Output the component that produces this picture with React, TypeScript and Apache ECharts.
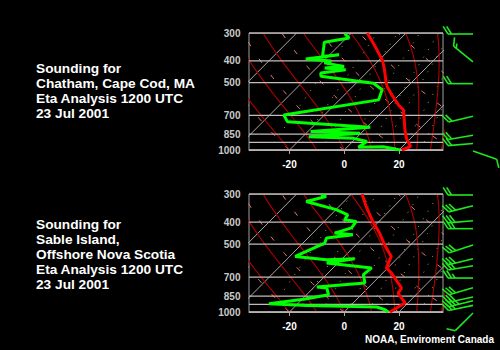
import React, { useEffect, useRef } from "react";
import * as echarts from "echarts";

// ---------------- Data: Chatham, Cape Cod, MA (top panel) ----------------
const chathamTempP = [300, 338, 369, 400, 438, 494, 520, 567, 629, 662, 734, 814, 887, 965, 1000];
const chathamTempC = [-34.2, -27.5, -22.7, -18.4, -14.5, -9.7, -7.5, -2.7, 3.4, 7.0, 11.0, 14.9, 18.5, 23.0, 21.0];
const chathamDewP = [302, 316, 330, 382, 375, 392, 400, 408, 423, 430, 438, 453, 468, 503, 538, 597, 698, 747, 791, 827, 842, 872, 887, 917, 973, 967, 1000];
const chathamDewC = [-42.2, -39.0, -46.5, -42.0, -36.6, -47.2, -37.2, -39.0, -30.5, -37.0, -28.7, -36.6, -35.4, -13.6, -8.1, -5.7, -34.8, -31.1, 1.2, -19.0, -0.3, -17.8, -0.8, 5.2, 4.2, 13.1, 20.4];
const chathamWindP = [300, 400, 500, 700, 850, 925, 1000];
const chathamWindDir = [270, 309, 270, 257, 260, 265, 109];
const chathamWindKt = [20, 15, 20, 20, 20, 20, 10];

// ---------------- Data: Sable Island (bottom panel) ----------------
const sableTempP = [300, 340, 397, 447, 503, 567, 638, 672, 783, 824, 912, 1000];
const sableTempC = [-36.1, -30.2, -22.3, -15.6, -9.6, -2.9, -0.5, 3.2, 12.3, 12.8, 19.0, 16.7];
const sableDewP = [302, 308, 324, 352, 371, 390, 397, 424, 447, 455, 470, 495, 567, 587, 581, 607, 638, 683, 744, 775, 783, 838, 876, 919, 935, 950, 977, 1000];
const sableDewC = [-50.8, -48.3, -53.8, -39.9, -33.8, -33.2, -28.3, -27.7, -32.0, -24.7, -33.2, -32.0, -38.0, -25.3, -15.4, -24.1, -5.9, -6.5, -2.9, -19.0, -15.0, -12.0, -18.9, -30.5, -16.0, 10.1, 14.1, 16.1];
const sableWindP = [300, 335, 390, 423, 500, 575, 617, 700, 773, 850, 882, 925, 1000];
const sableWindDir = [270, 256, 265, 270, 252, 256, 260, 270, 254, 258, 256, 258, 225];
const sableWindKt = [20, 30, 30, 30, 30, 30, 30, 25, 30, 30, 35, 30, 10];

// ---------------- Diagram reference values ----------------
const isobarLevels = [300, 400, 500, 700, 850, 925, 1000];
const isobarLabels = [300, 400, 500, 700, 850, 1000];
const tempTicks = [-20, 0, 20];
const isothermValues = [-120, -100, -80, -60, -40, -20, 0, 20, 40];
const dryThetaK = [233, 253, 273, 293, 313, 333, 353, 373, 393, 413, 433];
const moistStartC = [-20, -10, 0, 10, 18.5, 26.5, 31.5, 35.5];
const mixingRatioGkg = [0.4, 1, 2, 4, 7, 10, 16, 24];
const samplePressures = [1000, 975, 950, 925, 900, 875, 850, 825, 800, 775, 750, 725, 700, 675, 650, 625, 600, 575, 550, 525, 500, 475, 450, 425, 400, 375, 350, 325, 300];

const X_MIN = -34.8;
const X_MAX = 36.1;
const SKEW = 35.4;
const FONT = 'Arial, "Liberation Sans", Helvetica, sans-serif';

const skew = (t: number, p: number) => t + SKEW * Math.log(1000 / p);

function esat(tc: number) {
  return 6.112 * Math.exp((17.67 * tc) / (tc + 243.5));
}
function moistLapse(tk: number, p: number) {
  const tc = tk - 273.15;
  const e = esat(tc);
  const rs = (0.622 * e) / Math.max(p - e, 1);
  const Rd = 287.04, cp = 1005.7, Lv = 2.501e6, eps = 0.622;
  return (Rd * tk + Lv * rs) / (cp + (Lv * Lv * rs * eps) / (Rd * tk * tk)) / p;
}
function moistCurve(t0: number) {
  let t = t0 + 273.15;
  let p = 1000;
  const dp = -5;
  const pts: number[][] = [[skew(t0, 1000), 1000]];
  while (p > 300) {
    const k1 = moistLapse(t, p);
    const k2 = moistLapse(t + k1 * dp, p + dp);
    t += 0.5 * (k1 + k2) * dp;
    p += dp;
    if (p % 25 === 0) pts.push([skew(t - 273.15, p), p]);
  }
  return pts;
}
function dryCurve(th: number) {
  return samplePressures.map((p) => [skew(th * Math.pow(p / 1000, 0.2857) - 273.15, p), p]);
}
function mixCurve(w: number) {
  return samplePressures.map((p) => {
    const e = (p * (w / 1000)) / (0.622 + w / 1000);
    const l = Math.log(e / 6.112);
    const td = (243.5 * l) / (17.67 - l);
    return [skew(td, p), p];
  });
}

function barbRender(params: any, api: any) {
  const p = api.value(1);
  const dir = api.value(2);
  const spd = api.value(3);
  const pt = api.coord([0, p]);
  const cs = params.coordSys;
  const sx = cs.x + cs.width + 30;
  const sy = pt[1] + 1;
  const rad = (dir * Math.PI) / 180;
  const dx = Math.sin(rad), dy = -Math.cos(rad);
  const L = 25;
  const ex = sx + dx * L, ey = sy + dy * L;
  const px = -dy, py = dx;
  const fx = px * 0.84 + dx * 0.54, fy = py * 0.84 + dy * 0.54;
  const style = { stroke: "#1ee81e", lineWidth: 1.6 };
  const children: any[] = [
    { type: "line", shape: { x1: sx, y1: sy, x2: ex, y2: ey }, style },
  ];
  let rem = spd;
  let pos = 0;
  while (rem >= 10) {
    const qx = ex - dx * pos, qy = ey - dy * pos;
    children.push({ type: "line", shape: { x1: qx, y1: qy, x2: qx + fx * 9, y2: qy + fy * 9 }, style });
    pos += 3.5;
    rem -= 10;
  }
  if (rem >= 5) {
    const qx = ex - dx * pos, qy = ey - dy * pos;
    children.push({ type: "line", shape: { x1: qx, y1: qy, x2: qx + fx * 5, y2: qy + fy * 5 }, style });
  }
  return { type: "group", children };
}

function panelSeries(gi: number, tP: number[], tC: number[], dP: number[], dC: number[], wP: number[], wD: number[], wK: number[]) {
  const base = {
    type: "line",
    xAxisIndex: gi,
    yAxisIndex: gi,
    showSymbol: false,
    symbol: "none",
    silent: true,
    clip: true,
  };
  const out: any[] = [];
  isothermValues.forEach((t) =>
    out.push({ ...base, z: 1, data: [[skew(t, 1000), 1000], [skew(t, 300), 300]], lineStyle: { color: "#b0a4a4", width: 1 } })
  );
  dryThetaK.forEach((th) =>
    out.push({ ...base, z: 1, data: dryCurve(th), lineStyle: { color: "#e27a7a", width: 1, type: [5, 15] } })
  );
  mixingRatioGkg.forEach((w) =>
    out.push({ ...base, z: 1, data: mixCurve(w), lineStyle: { color: "#a8a82a", width: 1, type: [1, 8] } })
  );
  moistStartC.forEach((t0) =>
    out.push({ ...base, z: 2, data: moistCurve(t0), lineStyle: { color: "#b00000", width: 1.1 } })
  );
  isobarLevels.forEach((p) =>
    out.push({ ...base, z: 3, data: [[X_MIN, p], [X_MAX, p]], lineStyle: { color: "#c4bcbc", width: 1.3 } })
  );
  out.push({
    type: "scatter",
    xAxisIndex: gi,
    yAxisIndex: gi,
    silent: true,
    clip: false,
    symbolSize: 1,
    itemStyle: { color: "transparent" },
    data: isobarLabels.map((p) => [X_MIN, p]),
    label: {
      show: true,
      position: "left",
      distance: 8,
      formatter: (d: any) => String(d.value[1]),
      color: "#ffffff",
      fontWeight: "bold",
      fontSize: 10,
      fontFamily: FONT,
    },
  });
  out.push({
    ...base,
    z: 5,
    data: dP.map((p, i) => [skew(dC[i], p), p]),
    lineStyle: { color: "#00ff00", width: 3 },
  });
  out.push({
    ...base,
    z: 6,
    data: tP.map((p, i) => [skew(tC[i], p), p]),
    lineStyle: { color: "#ff0000", width: 3 },
  });
  out.push({
    type: "custom",
    xAxisIndex: gi,
    yAxisIndex: gi,
    clip: false,
    silent: true,
    z: 6,
    data: wP.map((p, i) => [0, p, wD[i], wK[i]]),
    renderItem: barbRender,
  });
  return out;
}

function xAxisFor(gi: number) {
  return {
    gridIndex: gi,
    type: "value",
    min: X_MIN,
    max: X_MAX,
    splitLine: { show: false },
    axisLine: { show: true, onZero: false, lineStyle: { color: "#a8a8a8" } },
    axisTick: { show: true, customValues: tempTicks, length: 4, lineStyle: { color: "#a8a8a8" } },
    axisLabel: {
      customValues: tempTicks,
      color: "#ffffff",
      fontWeight: "bold",
      fontSize: 10,
      margin: 9,
      fontFamily: FONT,
    },
  };
}
function yAxisFor(gi: number) {
  return {
    gridIndex: gi,
    type: "log",
    logBase: 10,
    min: 300,
    max: 1000,
    inverse: true,
    axisLine: { show: false },
    axisTick: { show: false },
    axisLabel: { show: false },
    splitLine: { show: false },
  };
}

const titleStyle = {
  fill: "#ffffff",
  fontWeight: "bold",
  fontSize: 13.7,
  fontFamily: FONT,
  lineHeight: 15,
  verticalAlign: "top",
  align: "left",
};

export default function App() {
  const ref = useRef<HTMLDivElement>(null);
  useEffect(() => {
    if (!ref.current) return;
    const chart = echarts.init(ref.current, undefined, { renderer: "svg" });
    chart.setOption({
      animation: false,
      backgroundColor: "#000000",
      grid: [
        { left: 249, top: 33, width: 194, height: 117, show: true, borderColor: "#a0a0a0", borderWidth: 1, backgroundColor: "transparent" },
        { left: 249, top: 194, width: 194, height: 118, show: true, borderColor: "#a0a0a0", borderWidth: 1, backgroundColor: "transparent" },
      ],
      xAxis: [xAxisFor(0), xAxisFor(1)],
      yAxis: [yAxisFor(0), yAxisFor(1)],
      series: [
        ...panelSeries(0, chathamTempP, chathamTempC, chathamDewP, chathamDewC, chathamWindP, chathamWindDir, chathamWindKt),
        ...panelSeries(1, sableTempP, sableTempC, sableDewP, sableDewC, sableWindP, sableWindDir, sableWindKt),
      ],
      graphic: [
        {
          type: "text",
          x: 36,
          y: 60.5,
          style: { ...titleStyle, text: "Sounding for\nChatham, Cape Cod, MA\nEta Analysis 1200 UTC\n23 Jul 2001" },
        },
        {
          type: "text",
          x: 36,
          y: 216.5,
          style: { ...titleStyle, text: "Sounding for\nSable Island,\nOffshore Nova Scotia\nEta Analysis 1200 UTC\n23 Jul 2001" },
        },
        {
          type: "text",
          x: 494,
          y: 339,
          style: {
            text: "NOAA, Enviroment Canada",
            fill: "#ffffff",
            fontWeight: "bold",
            fontSize: 10,
            fontFamily: FONT,
            verticalAlign: "middle",
            align: "right",
          },
        },
      ],
    });
    return () => chart.dispose();
  }, []);
  return (
    <div
      ref={ref}
      style={{ position: "absolute", left: 0, top: 0, width: 500, height: 350, background: "#000" }}
    />
  );
}
